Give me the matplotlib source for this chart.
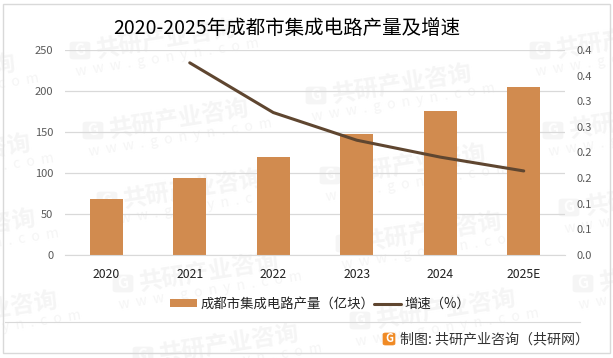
import matplotlib
matplotlib.use('Agg')
import matplotlib.pyplot as plt
from matplotlib.patches import Rectangle, FancyBboxPatch
from matplotlib.lines import Line2D

plt.rcParams['font.family'] = ['Noto Sans CJK SC', 'DejaVu Sans']

W, H = 613, 358

years = ['2020', '2021', '2022', '2023', '2024', '2025E']
output = [68, 94, 120, 147.5, 175.5, 205]
growth_years = ['2021', '2022', '2023', '2024', '2025E']
growth = [0.375, 0.278, 0.224, 0.191, 0.164]
left_ticks = [0, 50, 100, 150, 200, 250]
right_ticks = [0, 0.05, 0.1, 0.15, 0.2, 0.25, 0.3, 0.35, 0.4]
right_labels = ['0.0', '0.1', '0.1', '0.2', '0.2', '0.3', '0.3', '0.4', '0.4']

title = '2020-2025年成都市集成电路产量及增速'
bar_name = '成都市集成电路产量（亿块）'
line_name = '增速（%）'
source = '制图: 共研产业咨询（共研网）'
wm_name = '共研产业咨询'
wm_url = 'w  w  w  .  g  o  n  y  n  .  c  o  m'

# left end of each watermark, in pixels from the top left
wm_spots = [(70, 50), (83, 130), (306, 95), (530, 50), (543, 130), (-150, 85),
            (-135, 165), (-130, 240), (-108, 322), (97, 200), (113, 283),
            (336, 243), (320, 175), (350, 320), (559, 207), (573, 283), (133, 355)]

BAR = '#D18B4F'
LINE = '#5F4630'
GRID = '#D9D9D9'
WM = '#F5F5F5'


def fx(px):
    return px / W


def fy(py):
    return 1 - py / H


fig = plt.figure(figsize=(W / 100, H / 100), dpi=100)
fig.patch.set_facecolor('white')

for x, y in wm_spots:
    fig.add_artist(FancyBboxPatch((fx(x), fy(y + 9)), 20 / W, 17 / H, boxstyle='round,pad=0,rounding_size=0.006',
                                  fc=WM, ec=WM, lw=0.5, zorder=-2))
    fig.text(fx(x + 10), fy(y), 'G', fontsize=11, fontweight='bold', color='white', rotation=9,
             ha='center', va='center', zorder=-2)
    fig.text(fx(x + 26), fy(y), wm_name, fontsize=17, fontweight='bold', color=WM,
             rotation=9, rotation_mode='anchor', ha='left', va='center', zorder=-2)
    fig.text(fx(x + 6), fy(y + 22), wm_url, fontsize=10, color=WM,
             rotation=9, rotation_mode='anchor', ha='left', va='center', zorder=-2)

# outer frame and footer line
fig.add_artist(Rectangle((fx(2.5), fy(352.5)), 607 / W, 349 / H, fc='none', ec='#D9D9D9', lw=1, zorder=1))
fig.add_artist(Line2D([fx(5), fx(580)], [fy(322), fy(322)], color='#D9D9D9', lw=0.8))

ax = fig.add_axes([fx(64.5), fy(255), 501 / W, 205 / H])
ax.patch.set_alpha(0)
ax.bar(years, output, width=0.39, color=BAR, zorder=2, label=bar_name)
ax.set_xlim(-0.5, 5.5)
ax.set_ylim(0, 250)
ax.set_yticks(left_ticks)
ax.grid(axis='y', color=GRID, lw=0.9, zorder=1)
ax.set_axisbelow(True)
ax.tick_params(axis='y', length=0, labelsize=8, labelcolor='#595959', pad=8)
ax.tick_params(axis='x', length=0, labelsize=8.8, labelcolor='#222222', pad=9)
for s in ['top', 'right', 'left']:
    ax.spines[s].set_visible(False)
ax.spines['bottom'].set_color(GRID)

ax2 = ax.twinx()
line, = ax2.plot([years.index(y) for y in growth_years], growth, color=LINE, lw=2.2, zorder=3,
                 solid_capstyle='round', label=line_name)
ax2.set_ylim(0, 0.4)
ax2.set_yticks(right_ticks)
ax2.set_yticklabels(right_labels)
ax2.tick_params(axis='y', length=0, labelsize=8, labelcolor='#595959', pad=8)
for s in ax2.spines.values():
    s.set_visible(False)

fig.text(fx(287), fy(28), title, fontsize=14.05, color='black', ha='center', va='center')

bars = ax.containers[0]
fig.legend([bars, line], [bar_name, line_name], loc='center', bbox_to_anchor=(fx(320), fy(304)),
           ncol=2, frameon=False, fontsize=9.6, handlelength=2.0, handleheight=0.55,
           columnspacing=0.0, handletextpad=0.25, labelcolor='#222222')

# logo and source line
fig.add_artist(FancyBboxPatch((fx(383), fy(345)), 12 / W, 12 / H, boxstyle='round,pad=0,rounding_size=0.004',
                              fc='#F08A24', ec='#F08A24', lw=0.5))
fig.text(fx(389), fy(339), 'G', fontsize=8, fontweight='bold', color='white', ha='center', va='center')
fig.text(fx(400), fy(339), source, fontsize=10.1, color='#333333', ha='left', va='center')

fig.savefig('out.png', dpi=100)
